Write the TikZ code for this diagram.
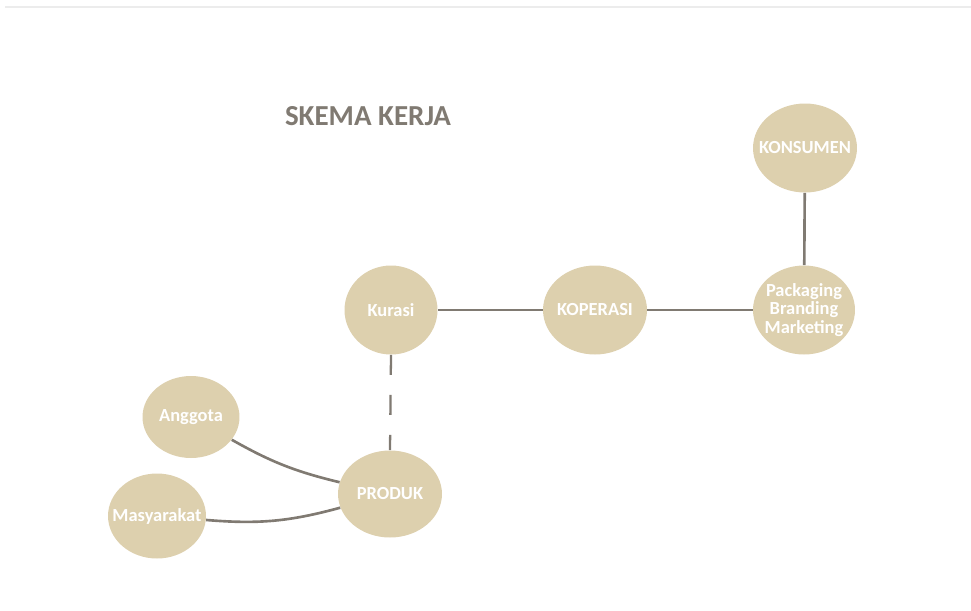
\documentclass[tikz,border=0pt]{standalone}
\usepackage{fontspec}
\setmainfont{Carlito}
\definecolor{sand}{RGB}{221,208,174}
\definecolor{stone}{RGB}{128,122,114}
\definecolor{hairline}{RGB}{236,236,236}
\usetikzlibrary{positioning, shapes.geometric}

\begin{document}
\begin{tikzpicture}[
    x=0.02cm, y=-0.02cm,
    pod/.style={draw=none, fill=sand, text=white, ellipse, inner xsep=-0.6cm, inner ysep=0pt,
      minimum width=2cm, minimum height=1.78cm, align=center,
      font=\fontsize{10.5}{10.5}\selectfont\bfseries},
    link/.style={draw=stone, line width=1.5pt},
    hint/.style={draw=stone, line width=1.3pt, dash pattern=on 0.4cm off 0.4cm},
  ]
    \useasboundingbox (0,0) rectangle (971,610);
    \draw[hairline, line width=0.6pt] (5,7) -- (971,7);

    \node[text=stone, font=\fontsize{16.5}{16.5}\selectfont\bfseries] (title) at (368,116) {SKEMA KERJA};

    \node[pod, minimum width=2.08cm] (konsumen) at (805,148) {KONSUMEN};
    \node[pod, minimum width=2.04cm] (pbm) at (804,310) {Packaging\\Branding\\Marketing};
    \node[pod, minimum width=2.08cm] (koperasi) at (595,310) {KOPERASI};
    \node[pod, minimum width=1.86cm] (kurasi) at (391,310) {Kurasi};
    \node[pod, minimum width=2.08cm, minimum height=1.74cm] (produk) at (390,494) {PRODUK};
    \node[pod, minimum width=1.94cm, minimum height=1.64cm] (anggota) at (191,417) {Anggota};
    \node[pod, minimum width=1.96cm, minimum height=1.7cm] (masyarakat) at (157,516) {Masyarakat};

    % connectors
    \draw[link] (konsumen) -- (pbm);
    \draw[link] (pbm) -- (koperasi);
    \draw[link] (koperasi) -- (kurasi);
    \draw[hint] (kurasi.south) -- (produk.north);
    \draw[link] (anggota) to[bend right=8] (produk);
    \draw[link] (masyarakat) to[bend right=10] (produk);
  \end{tikzpicture}
\end{document}
